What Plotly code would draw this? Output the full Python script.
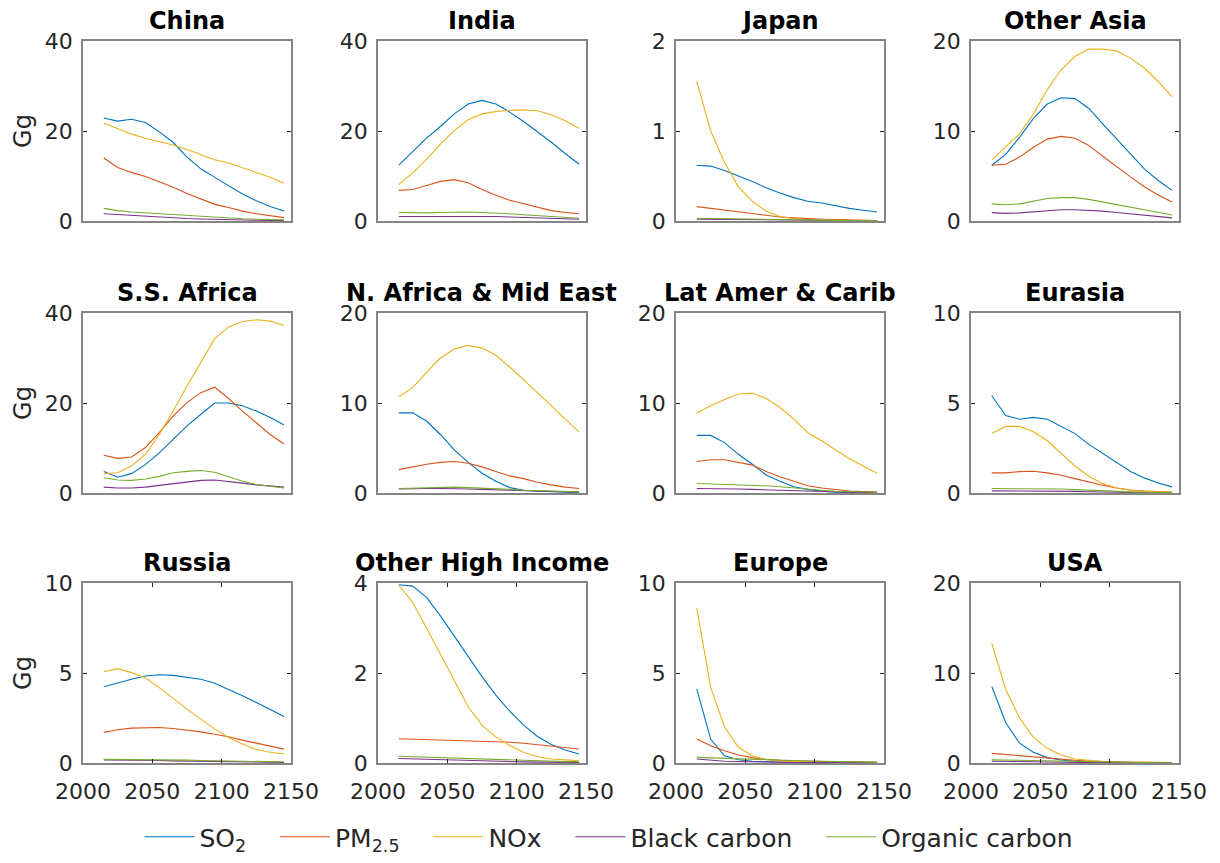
import plotly.graph_objects as go

# ---------------- data ----------------
years = [2015, 2025, 2035, 2045, 2055, 2065, 2075, 2085, 2095, 2105, 2115, 2125, 2135, 2145]

regions = ["China", "India", "Japan", "Other Asia",
           "S.S. Africa", "N. Africa & Mid East", "Lat Amer & Carib", "Eurasia",
           "Russia", "Other High Income", "Europe", "USA"]
y_max = [40, 40, 2, 20,
         40, 20, 20, 10,
         10, 4, 10, 20]

series_names = ["SO<sub>2</sub>", "PM<sub>2.5</sub>", "NOx", "Black carbon", "Organic carbon"]
series_colors = ["#0072BD", "#D95319", "#EDB120", "#7E2F8E", "#77AC30"]

china_so2 = [22.9, 22.2, 22.6, 21.9, 19.8, 17.5, 14.2, 11.6, 9.7, 7.8, 6.0, 4.5, 3.2, 2.2]
china_pm25 = [14.0, 11.9, 10.8, 9.9, 8.7, 7.5, 6.1, 4.9, 3.7, 3.0, 2.2, 1.6, 1.1, 0.75]
china_nox = [21.8, 20.5, 19.3, 18.4, 17.7, 16.9, 15.9, 14.8, 13.6, 12.9, 11.9, 10.8, 9.7, 8.4]
china_bc = [1.6, 1.4, 1.2, 1.0, 0.85, 0.7, 0.55, 0.45, 0.35, 0.28, 0.22, 0.17, 0.13, 0.1]
china_oc = [2.8, 2.3, 2.0, 1.8, 1.6, 1.4, 1.2, 1.0, 0.8, 0.65, 0.5, 0.4, 0.3, 0.25]

india_so2 = [12.4, 15.4, 18.4, 21.0, 23.8, 26.0, 26.8, 26.0, 24.2, 22.1, 19.9, 17.5, 15.0, 12.6]
india_pm25 = [6.8, 7.0, 7.9, 8.8, 9.2, 8.5, 7.0, 5.7, 4.6, 3.8, 3.0, 2.3, 1.9, 1.6]
india_nox = [8.1, 10.7, 13.7, 17.1, 20.1, 22.5, 23.8, 24.3, 24.6, 24.7, 24.5, 23.6, 22.3, 20.6]
india_bc = [1.0, 1.0, 1.0, 1.05, 1.1, 1.1, 1.05, 1.0, 0.9, 0.8, 0.7, 0.6, 0.5, 0.4]
india_oc = [1.9, 1.8, 1.8, 1.9, 2.0, 2.0, 1.9, 1.8, 1.6, 1.4, 1.2, 1.0, 0.8, 0.6]

japan_so2 = [0.62, 0.61, 0.56, 0.50, 0.44, 0.37, 0.31, 0.26, 0.22, 0.20, 0.17, 0.14, 0.12, 0.10]
japan_pm25 = [0.16, 0.14, 0.12, 0.10, 0.08, 0.06, 0.045, 0.035, 0.025, 0.02, 0.015, 0.01, 0.008, 0.006]
japan_nox = [1.55, 1.0, 0.65, 0.38, 0.22, 0.11, 0.05, 0.025, 0.015, 0.01, 0.008, 0.006, 0.005, 0.004]
japan_bc = [0.02, 0.018, 0.015, 0.013, 0.011, 0.009, 0.008, 0.007, 0.006, 0.005, 0.004, 0.004, 0.003, 0.003]
japan_oc = [0.03, 0.027, 0.024, 0.021, 0.018, 0.015, 0.013, 0.011, 0.009, 0.008, 0.007, 0.006, 0.005, 0.004]

oasia_so2 = [6.2, 7.4, 9.3, 11.4, 13.0, 13.7, 13.6, 12.5, 10.8, 9.1, 7.5, 5.8, 4.5, 3.4]
oasia_pm25 = [6.2, 6.3, 7.1, 8.2, 9.1, 9.4, 9.2, 8.4, 7.2, 6.0, 4.9, 3.8, 2.9, 2.1]
oasia_nox = [6.8, 8.2, 9.7, 11.9, 14.6, 16.8, 18.3, 19.1, 19.1, 18.9, 18.1, 17.0, 15.5, 13.8]
oasia_bc = [0.93, 0.85, 0.9, 1.0, 1.15, 1.25, 1.25, 1.2, 1.1, 0.95, 0.8, 0.65, 0.5, 0.35]
oasia_oc = [1.9, 1.8, 1.9, 2.2, 2.5, 2.6, 2.6, 2.4, 2.1, 1.8, 1.5, 1.2, 0.93, 0.67]

ssaf_so2 = [4.8, 3.5, 4.3, 6.3, 8.9, 11.9, 14.9, 17.5, 20.0, 20.0, 19.4, 18.2, 16.8, 15.1]
ssaf_pm25 = [8.4, 7.7, 8.0, 10.1, 13.4, 17.1, 20.1, 22.3, 23.5, 21.0, 18.2, 15.5, 13.0, 10.9]
ssaf_nox = [4.3, 4.5, 6.0, 8.6, 13.0, 18.2, 23.8, 29.0, 34.3, 36.9, 38.1, 38.5, 38.2, 37.2]
ssaf_bc = [1.3, 1.1, 1.1, 1.3, 1.7, 2.1, 2.5, 2.8, 2.9, 2.6, 2.2, 1.8, 1.5, 1.3]
ssaf_oc = [3.4, 2.9, 2.8, 3.1, 3.7, 4.5, 4.8, 5.0, 4.6, 3.6, 2.6, 1.9, 1.5, 1.1]

name_so2 = [8.9, 8.9, 8.0, 6.5, 4.8, 3.4, 2.2, 1.3, 0.6, 0.3, 0.2, 0.1, 0.08, 0.05]
name_pm25 = [2.6, 2.9, 3.2, 3.4, 3.5, 3.3, 2.9, 2.4, 1.9, 1.6, 1.2, 0.9, 0.65, 0.5]
name_nox = [10.7, 11.7, 13.4, 15.0, 16.0, 16.4, 16.1, 15.3, 14.0, 12.6, 11.2, 9.7, 8.2, 6.8]
name_bc = [0.45, 0.5, 0.5, 0.5, 0.5, 0.45, 0.4, 0.35, 0.3, 0.25, 0.2, 0.15, 0.12, 0.1]
name_oc = [0.5, 0.55, 0.6, 0.65, 0.65, 0.6, 0.55, 0.45, 0.4, 0.3, 0.25, 0.2, 0.15, 0.12]

lac_so2 = [6.4, 6.4, 5.6, 4.3, 3.2, 2.0, 1.3, 0.7, 0.4, 0.2, 0.1, 0.07, 0.05, 0.03]
lac_pm25 = [3.5, 3.7, 3.7, 3.4, 3.1, 2.4, 1.8, 1.3, 0.8, 0.55, 0.37, 0.22, 0.15, 0.1]
lac_nox = [8.9, 9.7, 10.4, 11.0, 11.1, 10.5, 9.5, 8.2, 6.7, 5.8, 4.8, 3.8, 3.0, 2.2]
lac_bc = [0.5, 0.5, 0.5, 0.45, 0.4, 0.35, 0.3, 0.22, 0.18, 0.14, 0.1, 0.07, 0.05, 0.04]
lac_oc = [1.05, 1.0, 1.0, 0.95, 0.9, 0.8, 0.7, 0.55, 0.4, 0.3, 0.2, 0.15, 0.1, 0.08]

eura_so2 = [5.4, 4.3, 4.1, 4.2, 4.1, 3.7, 3.3, 2.7, 2.2, 1.7, 1.2, 0.84, 0.56, 0.34]
eura_pm25 = [1.12, 1.12, 1.19, 1.21, 1.12, 0.99, 0.8, 0.61, 0.43, 0.28, 0.17, 0.11, 0.07, 0.05]
eura_nox = [3.3, 3.7, 3.7, 3.4, 2.9, 2.2, 1.5, 0.93, 0.52, 0.28, 0.15, 0.09, 0.07, 0.05]
eura_bc = [0.12, 0.12, 0.12, 0.12, 0.11, 0.1, 0.09, 0.07, 0.05, 0.04, 0.03, 0.02, 0.015, 0.01]
eura_oc = [0.25, 0.25, 0.25, 0.25, 0.24, 0.22, 0.19, 0.15, 0.11, 0.08, 0.06, 0.04, 0.03, 0.02]

russ_so2 = [4.24, 4.46, 4.65, 4.83, 4.9, 4.87, 4.78, 4.65, 4.43, 4.1, 3.73, 3.36, 2.95, 2.58]
russ_pm25 = [1.7, 1.85, 1.94, 1.97, 1.97, 1.92, 1.83, 1.73, 1.6, 1.46, 1.27, 1.1, 0.92, 0.77]
russ_nox = [5.07, 5.24, 5.02, 4.74, 4.19, 3.58, 2.99, 2.44, 1.88, 1.42, 1.05, 0.75, 0.6, 0.5]
russ_bc = [0.17, 0.17, 0.16, 0.15, 0.14, 0.12, 0.11, 0.09, 0.08, 0.07, 0.05, 0.04, 0.035, 0.03]
russ_oc = [0.2, 0.2, 0.2, 0.19, 0.18, 0.17, 0.16, 0.14, 0.12, 0.1, 0.09, 0.08, 0.07, 0.06]

ohi_so2 = [3.96, 3.93, 3.68, 3.27, 2.82, 2.37, 1.92, 1.51, 1.15, 0.84, 0.59, 0.41, 0.29, 0.2]
ohi_pm25 = [0.54, 0.53, 0.52, 0.52, 0.51, 0.5, 0.49, 0.48, 0.46, 0.44, 0.41, 0.38, 0.35, 0.31]
ohi_nox = [3.95, 3.57, 3.0, 2.41, 1.81, 1.25, 0.84, 0.58, 0.39, 0.24, 0.14, 0.09, 0.07, 0.05]
ohi_bc = [0.1, 0.09, 0.08, 0.07, 0.06, 0.05, 0.04, 0.035, 0.03, 0.025, 0.02, 0.02, 0.015, 0.015]
ohi_oc = [0.15, 0.14, 0.13, 0.12, 0.1, 0.09, 0.08, 0.07, 0.06, 0.05, 0.04, 0.035, 0.03, 0.03]

euro_so2 = [4.1, 1.33, 0.4, 0.18, 0.1, 0.07, 0.05, 0.04, 0.03, 0.03, 0.02, 0.02, 0.02, 0.01]
euro_pm25 = [1.33, 0.96, 0.68, 0.44, 0.3, 0.2, 0.15, 0.12, 0.1, 0.08, 0.07, 0.06, 0.05, 0.04]
euro_nox = [8.6, 4.2, 2.0, 0.87, 0.4, 0.18, 0.1, 0.07, 0.05, 0.04, 0.03, 0.03, 0.02, 0.02]
euro_bc = [0.22, 0.15, 0.1, 0.08, 0.06, 0.05, 0.04, 0.03, 0.025, 0.02, 0.015, 0.01, 0.01, 0.01]
euro_oc = [0.31, 0.28, 0.25, 0.22, 0.19, 0.17, 0.15, 0.13, 0.11, 0.1, 0.08, 0.07, 0.06, 0.05]

usa_so2 = [8.5, 4.5, 2.2, 1.2, 0.6, 0.33, 0.2, 0.12, 0.08, 0.06, 0.05, 0.04, 0.03, 0.03]
usa_pm25 = [1.07, 0.93, 0.8, 0.67, 0.53, 0.41, 0.3, 0.22, 0.16, 0.12, 0.09, 0.07, 0.05, 0.04]
usa_nox = [13.3, 8.2, 5.0, 2.85, 1.63, 0.89, 0.44, 0.26, 0.15, 0.1, 0.08, 0.06, 0.05, 0.04]
usa_bc = [0.2, 0.17, 0.14, 0.11, 0.08, 0.06, 0.05, 0.04, 0.03, 0.02, 0.02, 0.015, 0.01, 0.01]
usa_oc = [0.35, 0.32, 0.28, 0.24, 0.2, 0.16, 0.13, 0.1, 0.08, 0.06, 0.05, 0.04, 0.03, 0.03]

panel_data = [
    [china_so2, china_pm25, china_nox, china_bc, china_oc],
    [india_so2, india_pm25, india_nox, india_bc, india_oc],
    [japan_so2, japan_pm25, japan_nox, japan_bc, japan_oc],
    [oasia_so2, oasia_pm25, oasia_nox, oasia_bc, oasia_oc],
    [ssaf_so2, ssaf_pm25, ssaf_nox, ssaf_bc, ssaf_oc],
    [name_so2, name_pm25, name_nox, name_bc, name_oc],
    [lac_so2, lac_pm25, lac_nox, lac_bc, lac_oc],
    [eura_so2, eura_pm25, eura_nox, eura_bc, eura_oc],
    [russ_so2, russ_pm25, russ_nox, russ_bc, russ_oc],
    [ohi_so2, ohi_pm25, ohi_nox, ohi_bc, ohi_oc],
    [euro_so2, euro_pm25, euro_nox, euro_bc, euro_oc],
    [usa_so2, usa_pm25, usa_nox, usa_bc, usa_oc],
]

x_ticks = [2000, 2050, 2100, 2150]

# ---------------- layout geometry (pixels in the 1220x863 page) ----------------
BODY = 8                      # default page margin around the plot div
W, H = 1220 - 2 * BODY, 863 - 2 * BODY
col_left = [83, 378, 676, 971]
panel_w = 208
row_top = [41, 313, 583]
panel_h = 180
legend_y_px = 837
legend_x_px = 621

FONT = "DejaVu Sans, Liberation Sans, Arial, sans-serif"
AX_COLOR = "#858585"
TXT_COLOR = "#262626"
PAD = "\u00a0\u00a0\u00a0"

fig = go.Figure()
layout_axes = {}
annotations = []

for i, region in enumerate(regions):
    r, c = divmod(i, 4)
    n = i + 1
    xa = "xaxis" if n == 1 else f"xaxis{n}"
    ya = "yaxis" if n == 1 else f"yaxis{n}"
    xref = "x" if n == 1 else f"x{n}"
    yref = "y" if n == 1 else f"y{n}"
    x0 = (col_left[c] - BODY) / W
    x1 = (col_left[c] - BODY + panel_w) / W
    y1 = 1 - (row_top[r] - BODY) / H
    y0 = 1 - (row_top[r] - BODY + panel_h) / H
    bottom_row = (r == 2)
    layout_axes[xa] = dict(
        domain=[x0, x1], anchor=yref, range=[2000, 2150], automargin=False,
        tickvals=x_ticks, showticklabels=bottom_row,
        ticks="inside" if bottom_row else "", ticklen=4, tickcolor=TXT_COLOR,
        mirror="ticks" if bottom_row else True,
        showline=True, linecolor=AX_COLOR, linewidth=1.5,
        showgrid=False, zeroline=False,
        tickfont=dict(family=FONT, size=22, color=TXT_COLOR),
        ticklabelstandoff=8,
    )
    ym = y_max[i]
    layout_axes[ya] = dict(
        domain=[y0, y1], anchor=xref, range=[0, ym], automargin=False,
        tickvals=[0, ym / 2, ym], ticks="inside", ticklen=4, tickcolor=TXT_COLOR,
        mirror="ticks", showline=True, linecolor=AX_COLOR, linewidth=1.5,
        showgrid=False, zeroline=False,
        tickfont=dict(family=FONT, size=22, color=TXT_COLOR),
        ticklabelstandoff=4,
    )
    if c == 0:
        layout_axes[ya]["title"] = dict(text="Gg", font=dict(family=FONT, size=24, color=TXT_COLOR), standoff=6)

    for k in range(5):
        fig.add_trace(go.Scatter(
            x=years, y=panel_data[i][k], mode="lines",
            line=dict(color=series_colors[k], width=1.1),
            name=series_names[k] + PAD, legendgroup=series_names[k],
            showlegend=(i == 0), xaxis=xref, yaxis=yref,
        ))

    annotations.append(dict(
        text=f"<b>{region}</b>", xref="paper", yref="paper",
        x=(x0 + x1) / 2, y=y1, xanchor="center", yanchor="bottom", yshift=4,
        showarrow=False, font=dict(family=FONT, size=24, color="#000000"),
    ))

fig.update_layout(
    width=W, height=H, autosize=False,
    margin=dict(l=0, r=0, t=0, b=0, autoexpand=False),
    paper_bgcolor="white", plot_bgcolor="white",
    annotations=annotations,
    showlegend=True,
    legend=dict(orientation="h", x=(legend_x_px - BODY) / W, xanchor="center",
                y=1 - (legend_y_px - BODY) / H, yanchor="middle",
                font=dict(family=FONT, size=25, color=TXT_COLOR),
                bgcolor="rgba(0,0,0,0)", itemwidth=50),
    **layout_axes,
)

fig.write_html("out.html")
